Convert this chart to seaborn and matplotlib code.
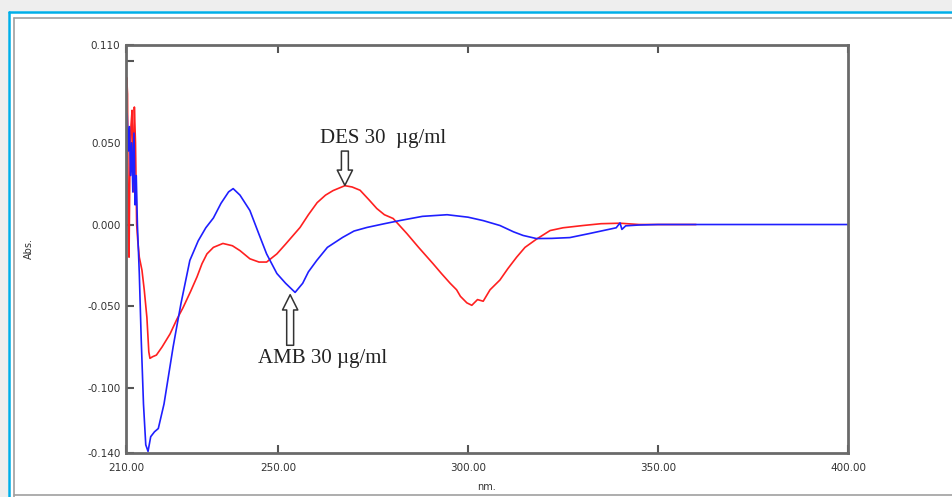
import numpy as np
import pandas as pd
import seaborn as sns
import matplotlib.pyplot as plt
from matplotlib.lines import Line2D
from matplotlib.patches import Rectangle

# AMB 30 ug/ml (blue)
wl_amb = [210.0, 210.3, 210.6, 210.9, 211.2, 211.5, 211.8, 212.1, 212.4, 212.7,
          213.0, 213.5, 214.0, 214.6, 215.2, 215.8, 216.5, 217.5, 218.5, 220.0,
          222.4, 223.4, 224.5, 226.8, 229.0, 231.0, 233.0, 235.0, 237.0, 238.2,
          240.0, 242.6, 245.0, 247.0, 249.7, 252.0, 254.5, 256.5, 258.0, 260.2,
          263.0, 267.0, 270.0, 273.4, 278.0, 282.0, 288.0, 294.5, 300.0, 304.0,
          308.4, 312.0, 314.5, 318.0, 322.0, 326.8, 332.0, 336.0, 339.0, 340.0,
          340.5, 341.5, 345.0, 350.0, 360.0, 380.0, 400.0]
abs_amb = [0.060, 0.068, 0.045, 0.060, 0.030, 0.050, 0.020, 0.056, 0.012, 0.030,
           0.000, -0.030, -0.070, -0.110, -0.135, -0.139, -0.130, -0.127, -0.125, -0.110,
           -0.075, -0.062, -0.048, -0.022, -0.010, -0.002, 0.004, 0.013, 0.020, 0.022,
           0.018, 0.0086, -0.006, -0.018, -0.030, -0.036, -0.0416, -0.036, -0.029, -0.022,
           -0.014, -0.0079, -0.004, -0.0018, 0.0005, 0.0024, 0.005, 0.006, 0.0045, 0.0024,
           -0.0006, -0.0045, -0.0067, -0.0086, -0.0085, -0.008, -0.0055, -0.0035, -0.002, 0.001,
           -0.003, -0.0008, -0.0003, 0.0, 0.0, 0.0, 0.0]

# DES 30 ug/ml (red)
wl_des = [210.0, 210.2, 210.4, 210.6, 210.8, 211.0, 211.3, 211.6, 211.9, 212.2,
          212.5, 212.8, 213.1, 213.5, 214.2, 214.8, 215.5, 216.0, 216.3, 217.0,
          218.0, 219.5, 221.6, 223.4, 225.0, 227.0, 228.7, 230.0, 231.3, 233.0,
          235.5, 238.0, 240.0, 242.6, 245.0, 247.0, 249.7, 252.0, 255.8, 258.0,
          260.3, 262.5, 264.5, 267.6, 269.5, 271.6, 274.0, 276.0, 278.0, 280.3,
          283.9, 287.0, 290.8, 293.0, 295.3, 297.0, 298.0, 299.7, 301.0, 302.5,
          304.0, 305.8, 308.4, 310.5, 312.8, 315.0, 318.0, 321.6, 325.0, 330.3,
          335.0, 340.0, 345.0, 360.0]
abs_des = [0.020, 0.090, 0.080, 0.000, -0.020, 0.030, 0.060, 0.070, 0.020, 0.072,
           0.050, 0.000, -0.010, -0.020, -0.028, -0.040, -0.057, -0.078, -0.082, -0.081,
           -0.080, -0.075, -0.067, -0.058, -0.051, -0.041, -0.032, -0.024, -0.018, -0.014,
           -0.0116, -0.013, -0.016, -0.021, -0.023, -0.023, -0.018, -0.012, -0.0018, 0.006,
           0.0134, 0.018, 0.0208, 0.0238, 0.023, 0.021, 0.015, 0.0098, 0.006, 0.0037,
           -0.0055, -0.014, -0.024, -0.030, -0.036, -0.040, -0.044, -0.048, -0.0495, -0.046,
           -0.047, -0.040, -0.034, -0.027, -0.020, -0.014, -0.009, -0.0037, -0.002, -0.0006,
           0.0005, 0.0008, 0.0, 0.0]

x_ticks = [210, 250, 300, 350, 400]
y_ticks = [0.110, 0.100, 0.050, 0.000, -0.050, -0.100, -0.140]
y_tick_labels = ["0.110", "", "0.050", "0.000", "-0.050", "-0.100", "-0.140"]

sns.set_style("white")
plt.rcParams["font.family"] = ["DejaVu Sans"]

W, H = 953, 497
fig = plt.figure(figsize=(W / 100, H / 100), dpi=100)
ax = fig.add_axes([126 / W, 1 - 453 / H, (848 - 126) / W, (453 - 45) / H])

df_des = pd.DataFrame({"wl": wl_des, "abs": abs_des})
df_amb = pd.DataFrame({"wl": wl_amb, "abs": abs_amb})
sns.lineplot(data=df_des, x="wl", y="abs", color="#ff2020", lw=1.2, sort=False,
             estimator=None, ax=ax)
sns.lineplot(data=df_amb, x="wl", y="abs", color="#1f1fff", lw=1.2, sort=False,
             estimator=None, ax=ax)

ax.set_xlim(210, 400)
ax.set_ylim(-0.140, 0.110)
ax.set_xticks(x_ticks)
ax.set_xticklabels([f"{t:.2f}" for t in x_ticks])
ax.set_yticks(y_ticks)
ax.set_yticklabels(y_tick_labels)
ax.tick_params(axis="x", direction="in", length=6, width=1.5, color="#555",
               labelsize=7.5, labelcolor="#333", pad=7, top=True, bottom=True)
ax.tick_params(axis="y", direction="in", length=6, width=1.5, color="#555",
               labelsize=7.5, labelcolor="#333", pad=4, left=True, right=False)
for s in ax.spines.values():
    s.set_color("#6a6a6a")
    s.set_linewidth(2)
ax.set_xlabel("nm.", fontsize=7, color="#333", labelpad=7)
ax.set_ylabel("Abs.", fontsize=7, color="#333", labelpad=38)

# hollow arrows with labels
arrow_kw = dict(arrowstyle="simple,head_length=1.1,head_width=1.1,tail_width=0.5",
                fc="white", ec="#333", lw=1.1, shrinkA=0, shrinkB=0)
ax.annotate("", xy=(267.6, 0.024), xytext=(267.6, 0.045), arrowprops=arrow_kw)
ax.text(277.6, 0.0526, "DES 30  \u00b5g/ml", family="Liberation Serif", fontsize=15,
        color="#222", ha="center", va="center")
ax.annotate("", xy=(253.2, -0.043), xytext=(253.2, -0.074), arrowprops=arrow_kw)
ax.text(261.6, -0.0819, "AMB 30 \u00b5g/ml", family="Liberation Serif", fontsize=15,
        color="#222", ha="center", va="center")

# window frame
fig.patches.append(Rectangle((0, 1 - 10 / H), 1, 10 / H, transform=fig.transFigure,
                             color="#eeeeee", zorder=0))
fig.patches.append(Rectangle((0, 0), 7 / W, 1, transform=fig.transFigure,
                             color="#eeeeee", zorder=0))
fig.lines.append(Line2D([9 / W, 1], [1 - 12 / H] * 2, transform=fig.transFigure,
                        color="#00aee8", lw=1.8))
fig.lines.append(Line2D([9 / W] * 2, [0, 1 - 12 / H], transform=fig.transFigure,
                        color="#00aee8", lw=1.8))
fig.lines.append(Line2D([14 / W, 1], [1 - 18 / H] * 2, transform=fig.transFigure,
                        color="#a0a0a0", lw=1.2))
fig.lines.append(Line2D([14 / W] * 2, [0, 1 - 18 / H], transform=fig.transFigure,
                        color="#a0a0a0", lw=1.2))
fig.lines.append(Line2D([14 / W, 1], [1 - 495 / H] * 2, transform=fig.transFigure,
                        color="#a0a0a0", lw=1.2))

fig.savefig("out.png", dpi=100)
